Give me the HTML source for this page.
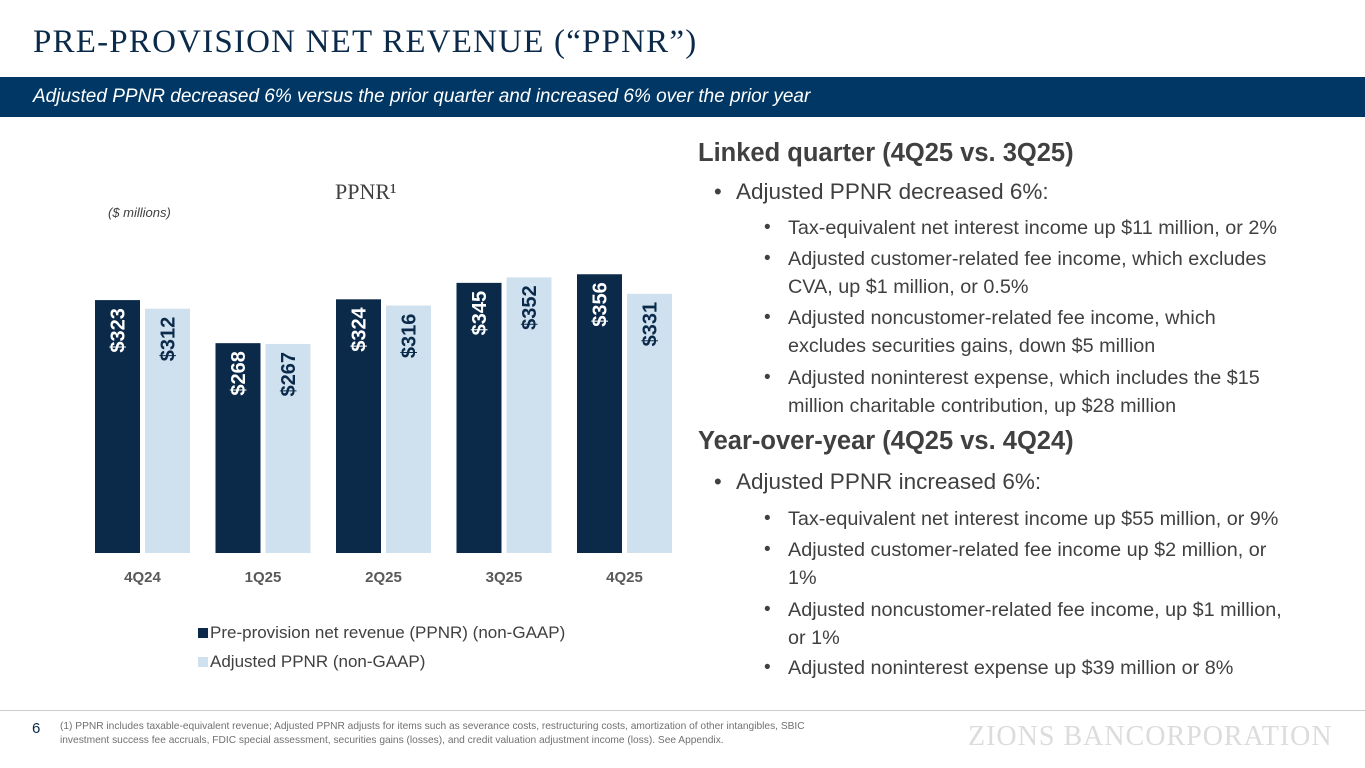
<!DOCTYPE html>
<html><head><meta charset="utf-8"><style>
body{margin:0;width:1365px;height:768px;position:relative;overflow:hidden;background:#fff;font-family:"Liberation Sans",sans-serif}
.abs{position:absolute;white-space:nowrap}
.h{color:#404040;font-weight:bold;font-size:25.5px;line-height:30px}
.b1{color:#404040;font-size:22.5px;line-height:28px}
.b2{color:#404040;font-size:19.8px;line-height:28px}
.dot1{position:absolute;left:714px;font-size:22px;line-height:28px;color:#404040}
.dot2{position:absolute;left:764px;font-size:19px;line-height:28px;color:#404040}
</style></head><body>
<div class="abs" style="left:33px;top:24px;font-family:'Liberation Serif',serif;font-size:33px;letter-spacing:1.2px;color:#0b2a4a">PRE-PROVISION NET REVENUE (“PPNR”)</div>
<div class="abs" style="left:0;top:77px;width:1365px;height:40px;background:#003764"></div>
<div class="abs" style="left:33px;top:86px;color:#fff;font-style:italic;font-size:19px">Adjusted PPNR decreased 6% versus the prior quarter and increased 6% over the prior year</div>

<div class="abs" style="left:335px;top:179px;font-family:'Liberation Serif',serif;font-size:22px;color:#404040">PPNR¹</div>
<div class="abs" style="left:108px;top:205px;font-style:italic;font-size:13px;color:#404040">($ millions)</div>
<svg id="chart" class="abs" style="left:0;top:0" width="700" height="700"></svg>
<div class="abs" style="left:198px;top:623px;font-size:17px;color:#404040"><span style="display:inline-block;width:10px;height:10px;background:#0b2a4a;margin-right:2px"></span>Pre-provision net revenue (PPNR) (non-GAAP)</div>
<div class="abs" style="left:198px;top:652px;font-size:17px;color:#404040"><span style="display:inline-block;width:10px;height:10px;background:#cfe0ef;margin-right:2px"></span>Adjusted PPNR (non-GAAP)</div>

<div class="abs h" style="left:698px;top:138px">Linked quarter (4Q25 vs. 3Q25)</div>
<div class="dot1" style="top:178px">•</div><div class="abs b1" style="left:736px;top:178px">Adjusted PPNR decreased 6%:</div>
<div class="dot2" style="top:214px">•</div><div class="abs b2" style="left:788px;top:214px">Tax-equivalent net interest income up $11 million, or 2%</div>
<div class="dot2" style="top:245px">•</div><div class="abs b2" style="left:788px;top:245px">Adjusted customer-related fee income, which excludes<br>CVA, up $1 million, or 0.5%</div>
<div class="dot2" style="top:304px">•</div><div class="abs b2" style="left:788px;top:304px">Adjusted noncustomer-related fee income, which<br>excludes securities gains, down $5 million</div>
<div class="dot2" style="top:364px">•</div><div class="abs b2" style="left:788px;top:364px">Adjusted noninterest expense, which includes the $15<br>million charitable contribution, up $28 million</div>
<div class="abs h" style="left:698px;top:426px">Year-over-year (4Q25 vs. 4Q24)</div>
<div class="dot1" style="top:468px">•</div><div class="abs b1" style="left:736px;top:468px">Adjusted PPNR increased 6%:</div>
<div class="dot2" style="top:505px">•</div><div class="abs b2" style="left:788px;top:505px">Tax-equivalent net interest income up $55 million, or 9%</div>
<div class="dot2" style="top:536px">•</div><div class="abs b2" style="left:788px;top:536px">Adjusted customer-related fee income up $2 million, or<br>1%</div>
<div class="dot2" style="top:596px">•</div><div class="abs b2" style="left:788px;top:596px">Adjusted noncustomer-related fee income, up $1 million,<br>or 1%</div>
<div class="dot2" style="top:654px">•</div><div class="abs b2" style="left:788px;top:654px">Adjusted noninterest expense up $39 million or 8%</div>

<div class="abs" style="left:0;top:710px;width:1365px;height:1px;background:#ccc"></div>
<div class="abs" style="left:32px;top:720px;font-size:15px;color:#0b2a4a">6</div>
<div class="abs" style="left:60px;top:720px;font-size:10.2px;line-height:14px;color:#707070">(1) PPNR includes taxable-equivalent revenue; Adjusted PPNR adjusts for items such as severance costs, restructuring costs, amortization of other intangibles, SBIC<br>investment success fee accruals, FDIC special assessment, securities gains (losses), and credit valuation adjustment income (loss). See Appendix.</div>
<div class="abs" style="left:968px;top:721px;font-family:'Liberation Serif',serif;font-size:28px;letter-spacing:1px;color:#dcdcdc">ZIONS BANCORPORATION</div>

<script>
const categories=["4Q24","1Q25","2Q25","3Q25","4Q25"];
const ppnr=[323,268,324,345,356];
const adjusted=[312,267,316,352,331];
const svg=document.getElementById('chart');
const NS='http://www.w3.org/2000/svg';
const base=553, k=0.783, x0=95, step=120.5, bw=45;
function y(v){return base-v*k;}
function gx(i){return x0+i*step;}
function add(tag,attrs){const e=document.createElementNS(NS,tag);for(const a in attrs)e.setAttribute(a,attrs[a]);svg.appendChild(e);return e;}
categories.forEach((c,i)=>{
  [[ppnr,'#0b2a4a','#fff',0,'bar-ppnr'],[adjusted,'#cfe0ef','#0b2a4a',50,'bar-adjusted']].forEach(([arr,fill,tc,off,nm])=>{
    const v=arr[i];const bx=gx(i)+off;
    const r=add('rect',{x:bx,y:y(v),width:bw,height:base-y(v),fill:fill});
    
    
    const cx=bx+bw/2+7, cy=y(v)+8;
    const t=add('text',{x:cx,y:cy,fill:tc,'font-size':20,'font-weight':'bold','font-family':'Liberation Sans, sans-serif','text-anchor':'end',transform:`rotate(-90 ${cx} ${cy})`});
    t.textContent='$'+v;
    
    
  });
  const l=add('text',{x:gx(i)+47.5,y:582,fill:'#595959','font-size':15,'font-weight':'bold','font-family':'Liberation Sans, sans-serif','text-anchor':'middle'});
  l.textContent=c;
  
  
});
</script>
</body></html>
